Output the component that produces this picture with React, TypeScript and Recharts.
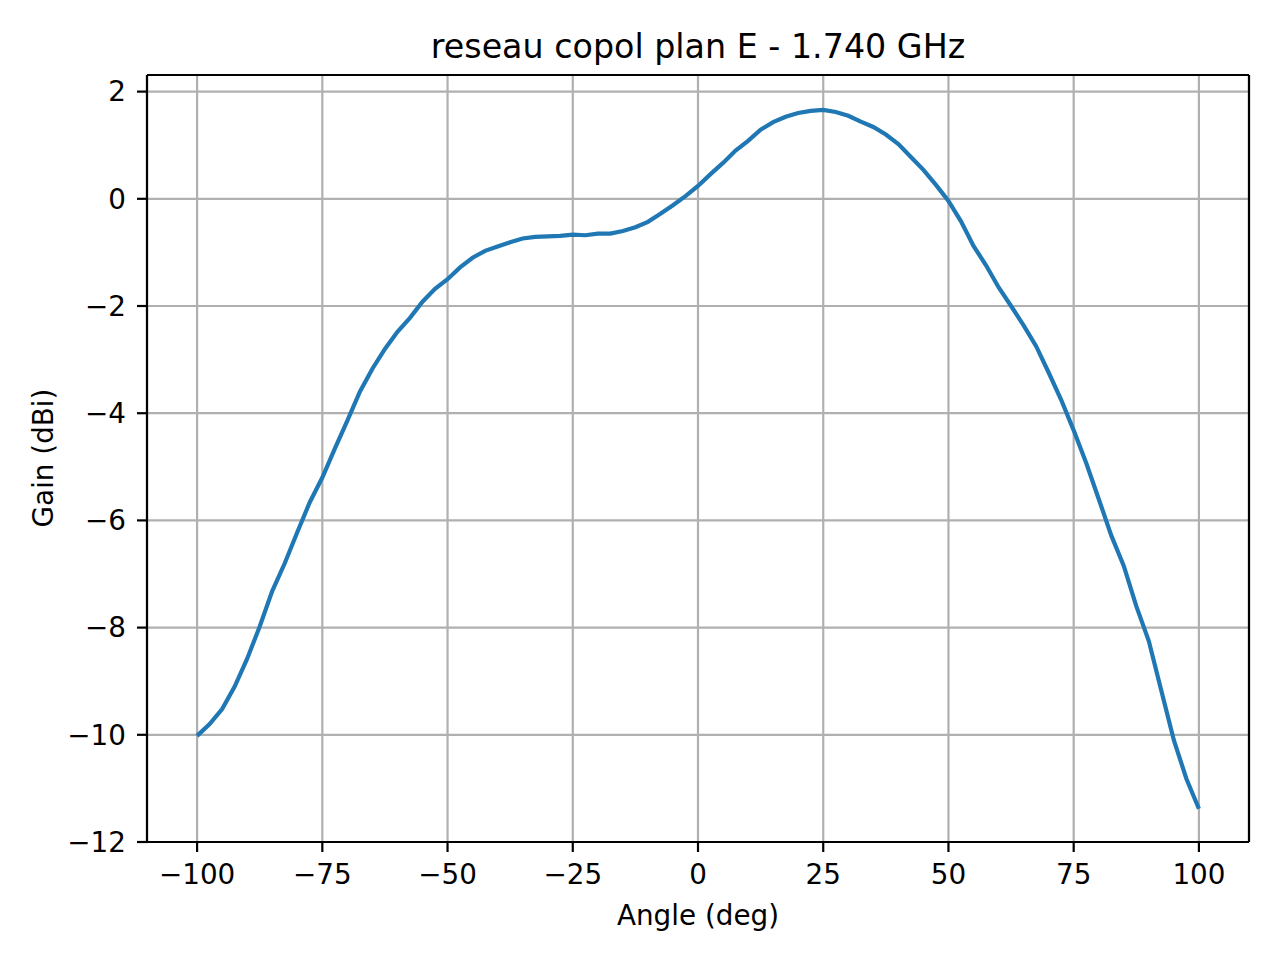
import { CartesianGrid, Line, LineChart, ReferenceLine, XAxis, YAxis } from "recharts";

const angles = [
  -100, -97.5, -95, -92.5, -90, -87.5, -85, -82.5, -80, -77.5,
  -75, -72.5, -70, -67.5, -65, -62.5, -60, -57.5, -55, -52.5,
  -50, -47.5, -45, -42.5, -40, -37.5, -35, -32.5, -30, -27.5,
  -25, -22.5, -20, -17.5, -15, -12.5, -10, -7.5, -5, -2.5,
  0, 2.5, 5, 7.5, 10, 12.5, 15, 17.5, 20, 22.5,
  25, 27.5, 30, 32.5, 35, 37.5, 40, 42.5, 45, 47.5,
  50, 52.5, 55, 57.5, 60, 62.5, 65, 67.5, 70, 72.5,
  75, 77.5, 80, 82.5, 85, 87.5, 90, 92.5, 95, 97.5, 100,
];

const gain = [
  -10.02, -9.8, -9.52, -9.1, -8.58, -7.98, -7.32, -6.8, -6.22, -5.66,
  -5.2, -4.66, -4.14, -3.6, -3.17, -2.8, -2.48, -2.22, -1.92, -1.68,
  -1.5, -1.28, -1.1, -0.97, -0.89, -0.81, -0.74, -0.71, -0.7, -0.69,
  -0.67, -0.68, -0.65, -0.65, -0.6, -0.53, -0.43, -0.28, -0.12, 0.05,
  0.24, 0.46, 0.67, 0.9, 1.08, 1.29, 1.43, 1.53, 1.6, 1.64,
  1.66, 1.62, 1.55, 1.44, 1.34, 1.2, 1.02, 0.78, 0.54, 0.26,
  -0.04, -0.42, -0.88, -1.24, -1.65, -2.0, -2.36, -2.75, -3.24, -3.75,
  -4.32, -4.93, -5.6, -6.28, -6.85, -7.6, -8.25, -9.18, -10.1, -10.82, -11.38,
];

const xTicks = [-100, -75, -50, -25, 0, 25, 50, 75, 100];
const yTicks = [-12, -10, -8, -6, -4, -2, 0, 2];

const X_DOMAIN: [number, number] = [-110, 110];
const Y_DOMAIN: [number, number] = [-12.0, 2.31];

const FONT = "DejaVu Sans, sans-serif";
const BLUE = "#1f77b4";

const data = angles.map((angle, i) => ({ angle, gain: gain[i] }));

const fmt = (v: number) => (v < 0 ? `\u2212${-v}` : `${v}`);

export default function App() {
  const tickStyle = { fill: "#000", fontSize: 27.8, fontFamily: FONT };
  const lineStyle = { stroke: "#000", strokeWidth: 2.2 };

  return (
    <div style={{ width: 1280, height: 960, background: "#fff" }}>
      <style>{"body{margin:0}"}</style>
      <LineChart
        width={1280}
        height={960}
        data={data}
        margin={{ top: 75, right: 31, bottom: 0, left: 0 }}
      >
        <CartesianGrid stroke="#b0b0b0" strokeWidth={2.2} />
        <XAxis
          dataKey="angle"
          type="number"
          domain={X_DOMAIN}
          ticks={xTicks}
          interval={0}
          height={118}
          tickSize={10}
          tickMargin={12}
          tick={tickStyle}
          tickLine={lineStyle}
          axisLine={lineStyle}
          tickFormatter={fmt}
          allowDataOverflow
        />
        <YAxis
          type="number"
          domain={Y_DOMAIN}
          ticks={yTicks}
          interval={0}
          width={147}
          tickSize={10}
          tickMargin={11}
          tick={tickStyle}
          tickLine={lineStyle}
          axisLine={lineStyle}
          tickFormatter={fmt}
          allowDataOverflow
        />
        <ReferenceLine x={X_DOMAIN[1]} stroke="#000" strokeWidth={2.2} />
        <ReferenceLine y={Y_DOMAIN[1]} stroke="#000" strokeWidth={2.2} />
        <Line
          type="linear"
          dataKey="gain"
          stroke={BLUE}
          strokeWidth={4.2}
          dot={false}
          isAnimationActive={false}
        />
        <text
          x={698}
          y={58}
          textAnchor="middle"
          fontSize={33.3}
          fontFamily={FONT}
          fill="#000"
        >
          reseau copol plan E - 1.740 GHz
        </text>
        <text
          x={698}
          y={925}
          textAnchor="middle"
          fontSize={27.8}
          fontFamily={FONT}
          fill="#000"
        >
          Angle (deg)
        </text>
        <text
          x={53}
          y={458}
          textAnchor="middle"
          fontSize={27.8}
          fontFamily={FONT}
          fill="#000"
          transform="rotate(-90 53 458)"
        >
          Gain (dBi)
        </text>
      </LineChart>
    </div>
  );
}
